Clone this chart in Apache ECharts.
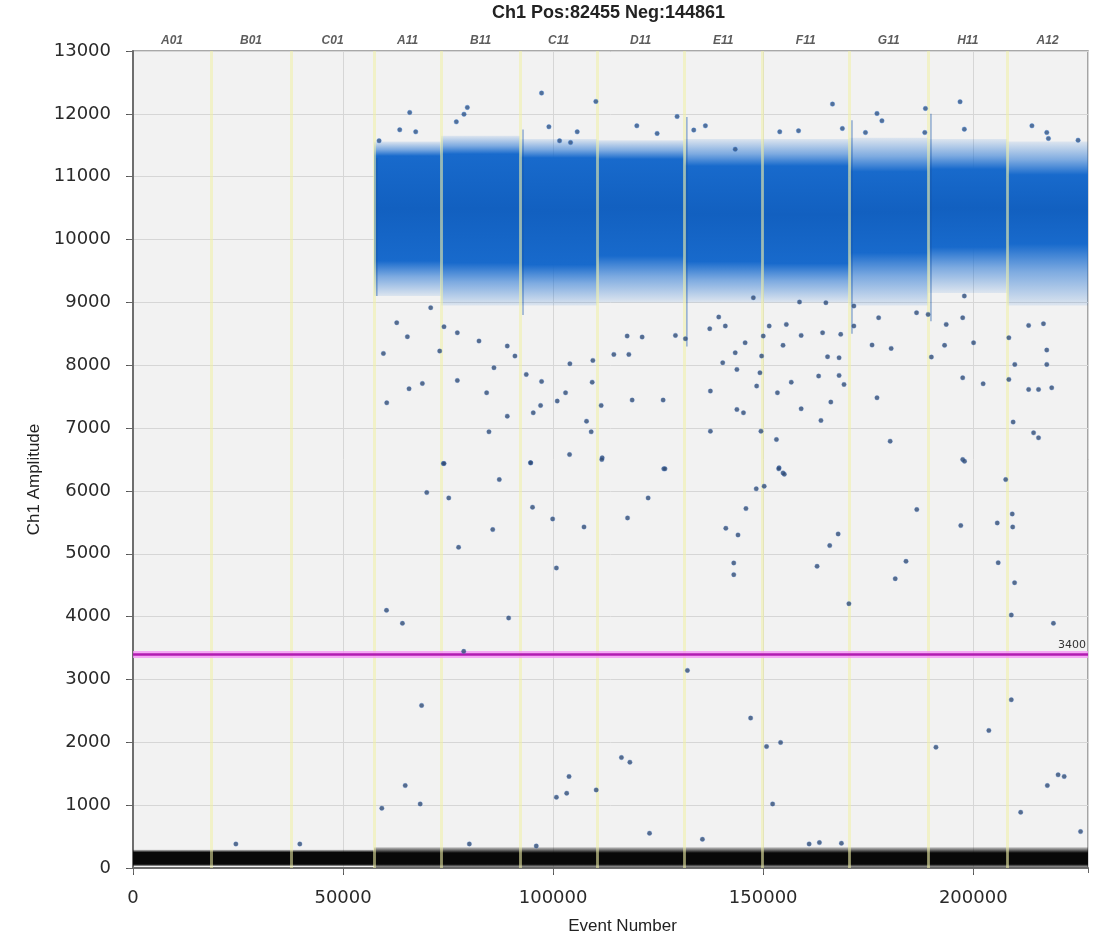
<!DOCTYPE html>
<html>
<head>
<meta charset="utf-8">
<script src="https://cdn.jsdelivr.net/npm/echarts@6/dist/echarts.min.js"></script>
<style>
html,body{margin:0;padding:0;background:#fff;}
#c{width:1094px;height:937px;}
</style>
</head>
<body>
<div id="c"></div>
<script>
// ---------------- data ----------------
const titleText = 'Ch1 Pos:82455 Neg:144861';
const threshold = 3400;
const totalEvents = 227316;
const wellNames = ['A01','B01','C01','A11','B11','C11','D11','E11','F11','G11','H11','A12'];
const wellBounds = [0,18571,37619,57381,73333,92143,110476,131190,149762,170476,189286,208095,227316];

// positive droplet cloud, per well (null = no positive cluster)
const posTailLow  = [null,null,null, 9100, 8950, 8950, 9000, 9000, 9000, 8950, 9150, 8950];
const posCoreLow  = [null,null,null, 9660, 9630, 9600, 9740, 9650, 9620, 9790, 9880, 9930];
const posCoreHigh = [null,null,null,11330,11360,11300,11280,11170,11170,11080,11120,11030];
const posTailHigh = [null,null,null,11560,11650,11600,11580,11600,11600,11620,11600,11560];

// darker streak of droplets at the start of some wells: [event, low, high]
const wellStartStreaks = [[57500,9100,11300],[92300,8800,11750],[131300,8300,11950],[170600,8500,11900],[189400,8700,12000]];

// negative droplet cloud, per well
const negTailLow  = [30,30,30,10,10,10,10,10,10,10,10,10];
const negCoreLow  = [60,60,60,60,60,60,60,60,60,60,60,60];
const negCoreHigh = [250,250,250,240,240,240,240,240,240,240,240,240];
const negTailHigh = [290,290,290,330,330,330,330,330,330,330,330,330];

// isolated droplets above the positive cloud
const highOutliers = [
 [97252,12330],[110172,12197],[65865,12022],[79577,12102],[78785,11995],[76962,11873],
 [63487,11746],[67292,11714],[98996,11794],[105733,11714],[119921,11810],[124756,11688],
 [133474,11741],[136248,11810],[129511,11958],[58573,11571],[101532,11571],[104148,11544],
 [166495,12155],[196863,12192],[188623,12086],[177089,12006],[178266,11889],[153940,11714],
 [158413,11730],[168849,11767],[174342,11703],[213969,11810],[217500,11703],[188466,11703],
 [197882,11756],[217893,11608],[143346,11438],[224955,11581]
];
// droplets between the two clouds
const midOutliers = [
 [62774,8677],[70859,8916],[65310,8454],[74029,8613],[77199,8517],[82351,8385],[59604,8188],
 [72998,8225],[89088,8305],[90911,8146],[85918,7960],[77199,7758],[68877,7710],[65707,7625],
 [84174,7562],[93606,7853],[97252,7742],[103990,8024],[109459,8077],[109300,7731],[114452,8172],
 [118019,8172],[117622,8464],[121189,8448],[129115,8475],[131493,8422],[137279,8581],[139419,8767],
 [137437,7588],[140370,8040],[102958,7562],[100977,7429],[97014,7360],[95271,7243],[89088,7190],
 [84729,6940],[107951,7110],[109062,6940],[111440,7360],[118812,7445],[126183,7445],[60396,7402],
 [103911,6579],[111678,6526],[94637,6447],[73870,6436],[126342,6351],[137437,6951],
 [147662,9075],[158648,9006],[164925,8995],[171595,8942],[177480,8756],[186504,8836],[189251,8809],
 [197882,9102],[193566,8650],[197490,8756],[208476,8438],[213184,8634],[216715,8661],[151429,8624],
 [155509,8650],[159040,8475],[164141,8517],[168457,8491],[171595,8624],[150016,8464],[145700,8358],
 [140992,8624],[154725,8316],[165319,8135],[168064,8119],[175911,8321],[180462,8268],[190037,8130],
 [193174,8316],[200080,8358],[217500,8241],[143346,8199],[143739,7933],[209888,8013],[217500,8013],
 [149624,8146],[149231,7880],[148447,7668],[156686,7731],[163199,7827],[168064,7838],[169241,7694],
 [177089,7482],[197490,7800],[202357,7705],[208476,7774],[213184,7615],[215538,7615],[218677,7641],
 [143739,7296],[145308,7243],[153390,7562],[159040,7307],[166103,7413],[163748,7121],[209496,7095],
 [214361,6924],[215538,6845],[180226,6792],[197490,6500],[149467,6951],[153155,6818],[153783,6367],
 [154725,6287],
 [74043,6436],[94651,6447],[111584,6500],[126624,6351],[197920,6473],[69921,5974],[75157,5889],
 [87188,6181],[95098,5741],[99888,5555],[122614,5889],[153694,6351],[155031,6266],[148347,6033],
 [150241,6075],[145896,5719],[207723,6181],[209283,5634],[209394,5427],[205718,5491],[197029,5449],
 [186557,5704],[85628,5385],[77497,5103],[107352,5427],[117712,5571],[141106,5406],[144003,5300],
 [143000,4854],[143000,4668],[162829,4801],[165837,5130],[167842,5316],[183995,4880],[181433,4604],
 [205941,4859],[209840,4540],[100779,4774],[170404,4206],[209060,4025],[219086,3893],[60341,4100],
 [64129,3893],[89416,3978],[78722,3447],
 [131971,3144],[68696,2587],[147009,2385],[209060,2677],[150800,1933],[154143,1997],[191124,1923],
 [203712,2188],[116263,1758],[118268,1684],[103787,1456],[100779,1126],[103230,1190],[110248,1243],
 [64797,1312],[68362,1020],[59227,951],[152246,1020],[217638,1312],[220200,1482],[221648,1456],
 [211288,887],[225547,579],
 [80059,383],[95989,351],[122948,553],[135536,457],[160935,383],[163386,404],[168622,394],
 [24491,382],[39709,382]
];

// ---------------- build ----------------
function bandItems(lo, cLo, cHi, hi) {
  const out = [];
  for (let i = 0; i < wellNames.length; i++) {
    if (lo[i] === null) continue;
    out.push([wellBounds[i], wellBounds[i + 1], lo[i], cLo[i], cHi[i], hi[i]]);
  }
  return out;
}
const wellCenters = wellNames.map((n, i) => [(wellBounds[i] + wellBounds[i + 1]) / 2, 13000]);

function bandRender(colorFn) {
  return function (params, api) {
    const x0 = api.value(0), x1 = api.value(1);
    const lo = api.value(2), cLo = api.value(3), cHi = api.value(4), hi = api.value(5);
    const pTL = api.coord([x0, hi]);
    const pBR = api.coord([x1, lo]);
    const span = hi - lo;
    const oTop = (hi - cHi) / span, oBot = (hi - cLo) / span;
    return {
      type: 'rect',
      shape: { x: pTL[0], y: pTL[1], width: pBR[0] - pTL[0], height: pBR[1] - pTL[1] },
      style: { fill: new echarts.graphic.LinearGradient(0, 0, 0, 1, colorFn(oTop, oBot)) }
    };
  };
}
const posStops = (a, b) => [
  { offset: 0, color: 'rgba(30,112,210,0.10)' },
  { offset: a * 0.55, color: 'rgba(30,112,210,0.55)' },
  { offset: a, color: 'rgba(24,106,204,1)' },
  { offset: (a + b) / 2, color: 'rgba(18,96,192,1)' },
  { offset: b, color: 'rgba(24,106,204,1)' },
  { offset: b + (1 - b) * 0.45, color: 'rgba(30,112,210,0.55)' },
  { offset: 1, color: 'rgba(30,112,210,0.10)' }
];
const negStops = (a, b) => [
  { offset: 0, color: 'rgba(20,20,20,0.2)' },
  { offset: a, color: 'rgba(8,8,8,1)' },
  { offset: b, color: 'rgba(8,8,8,1)' },
  { offset: 1, color: 'rgba(20,20,20,0.3)' }
];

const chart = echarts.init(document.getElementById('c'), null, { renderer: 'canvas' });
const axisFont = { fontFamily: 'DejaVu Sans', fontSize: 18, color: '#2a2a2a', formatter: v => String(v) };

chart.setOption({
  animation: false,
  backgroundColor: '#ffffff',
  graphic: [{
    type: 'text', left: 492, top: 4,
    style: { text: titleText, font: 'bold 18px "Liberation Sans"', fill: '#222' }
  }],
  grid: { left: 133, right: 6, top: 51, bottom: 69, outerBoundsMode: 'none', containLabel: false,
          show: true, backgroundColor: '#f2f2f2', borderColor: '#8c8c8c', borderWidth: 1.5 },
  xAxis: [{
    type: 'value', min: 0, max: totalEvents, interval: 50000,
    name: 'Event Number', nameLocation: 'middle', nameGap: 50,
    nameTextStyle: { fontFamily: 'Liberation Sans', fontSize: 17, color: '#222', padding: [0, 0, 0, 24] },
    axisLine: { show: true, onZero: false, lineStyle: { color: '#6e6e6e', width: 2 } },
    axisTick: { show: true, length: 7, lineStyle: { color: '#555' } },
    axisLabel: Object.assign({ margin: 21, showMaxLabel: false }, axisFont),
    splitLine: { show: true, lineStyle: { color: '#d6d6d6', width: 1 } }
  }, {
    type: 'value', min: 0, max: totalEvents, interval: 50000, position: 'top',
    axisLine: { show: false }, axisLabel: { show: false }, splitLine: { show: false },
    axisTick: { show: true, inside: true, length: 5, lineStyle: { color: '#666' } }
  }],
  yAxis: [{
    type: 'value', min: 0, max: 13000, interval: 1000,
    name: 'Ch1 Amplitude', nameLocation: 'middle', nameGap: 80,
    nameTextStyle: { fontFamily: 'Liberation Sans', fontSize: 17, color: '#222', padding: [0, 40, 0, 0] },
    axisLine: { show: true, lineStyle: { color: '#6e6e6e', width: 2 } },
    axisTick: { show: true, length: 7, lineStyle: { color: '#555' } },
    axisLabel: Object.assign({ margin: 22 }, axisFont),
    splitLine: { show: true, lineStyle: { color: '#d6d6d6', width: 1 } }
  }, {
    type: 'value', min: 0, max: 13000, interval: 1000, position: 'right',
    axisLine: { show: false }, axisLabel: { show: false }, splitLine: { show: false },
    axisTick: { show: true, inside: true, length: 5, lineStyle: { color: '#666' } }
  }],
  series: [
    {
      type: 'custom', name: 'negative', z: 2, clip: true,
      renderItem: bandRender(negStops),
      data: bandItems(negTailLow, negCoreLow, negCoreHigh, negTailHigh)
    },
    {
      type: 'custom', name: 'positive', z: 2, clip: true,
      renderItem: bandRender(posStops),
      data: bandItems(posTailLow, posCoreLow, posCoreHigh, posTailHigh)
    },
    {
      type: 'custom', name: 'streaks', z: 5, clip: true,
      renderItem: function (params, api) {
        const a = api.coord([api.value(0), api.value(2)]);
        const b = api.coord([api.value(0), api.value(1)]);
        return { type: 'rect', shape: { x: a[0] + 1.5, y: a[1], width: 1.5, height: b[1] - a[1] },
                 style: { fill: 'rgba(25,85,165,0.45)' } };
      },
      data: wellStartStreaks
    },
    {
      type: 'line', name: 'wells', data: [], z: 4, silent: true,
      markLine: {
        symbol: ['none', 'none'], silent: true, animation: false,
        label: { show: false },
        lineStyle: { color: 'rgba(240,240,165,0.55)', width: 3, type: 'solid' },
        data: wellBounds.slice(1, -1).map(v => ({ xAxis: v }))
      }
    },
    {
      type: 'line', name: 'threshold', data: [], z: 5, silent: true,
      markLine: {
        symbol: ['none', 'none'], silent: true, animation: false,
        data: [
          { yAxis: threshold, lineStyle: { color: 'rgba(245,150,245,0.8)', width: 7, type: 'solid' }, label: { show: false } },
          { yAxis: threshold, lineStyle: { color: '#b01cb0', width: 2.5, type: 'solid' },
            label: { show: true, position: 'insideEndTop', formatter: String(threshold), fontFamily: 'DejaVu Sans', fontSize: 11, color: '#333', distance: [2, 4] } }
        ]
      }
    },
    {
      type: 'scatter', name: 'high', z: 6, symbolSize: 4.5,
      itemStyle: { color: '#2c4f80', borderColor: 'rgba(60,130,220,0.6)', borderWidth: 0.8 },
      data: highOutliers
    },
    {
      type: 'scatter', name: 'mid', z: 6, symbolSize: 4.5,
      itemStyle: { color: '#2f4a70', borderColor: 'rgba(70,120,200,0.5)', borderWidth: 0.8 },
      data: midOutliers
    },
    {
      type: 'scatter', name: 'wellLabels', z: 7, symbolSize: 0, clip: false, silent: true,
      data: wellCenters,
      label: {
        show: true, position: 'top', distance: 4,
        formatter: p => wellNames[p.dataIndex],
        fontFamily: 'Liberation Sans', fontStyle: 'italic', fontWeight: 'bold', fontSize: 12, color: '#333'
      }
    }
  ]
});
</script>
</body>
</html>
